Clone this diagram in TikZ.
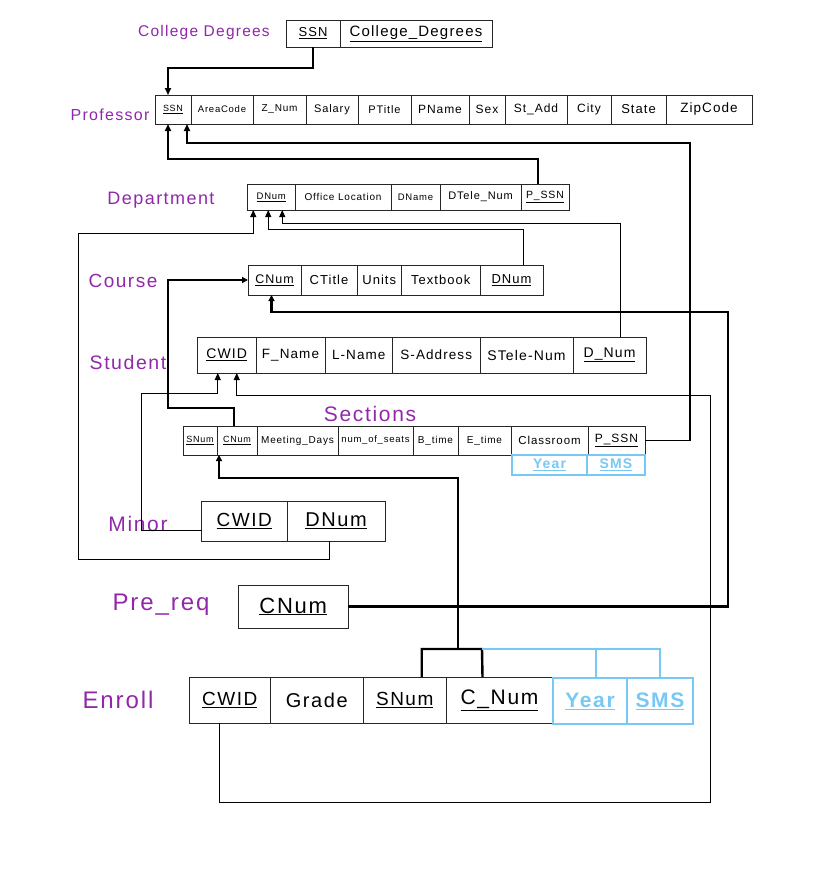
\documentclass[tikz,border=0pt]{standalone}
\usepackage{fontspec}
\setmainfont{Liberation Sans}
\newfontfamily\hand[LetterSpace=8]{Liberation Sans}
\usetikzlibrary{arrows.meta}
\definecolor{lab}{RGB}{145,40,170}
\definecolor{lblue}{RGB}{120,200,245}
\newcommand{\rc}[7][]{%
 \node[cellbox,#1,minimum width={(#4-#3)*1pt},minimum height={(#6-#5)*1pt}] (#2) at ({(#3+#4)/2},{(#5+#6)/2}) {#7};}
\newcommand{\fs}[1]{\fontsize{#1}{#1}\selectfont\hand}
\begin{document}
\begin{tikzpicture}[x=1pt,y=-1pt,
 cellbox/.style={draw=black!85,line width=0.8pt,inner sep=0pt,outer sep=0pt,rectangle},
 bcell/.style={cellbox,draw=lblue,line width=1.8pt,text=lblue},
 lbl/.style={text=lab,inner sep=0pt},
 thinarr/.style={draw=black,line width=1pt,-{Triangle[length=7pt,width=6pt]}},
 midarr/.style={draw=black,line width=1.6pt,-{Triangle[length=7pt,width=6pt]}},
 thickarr/.style={draw=black,line width=2.4pt,-{Triangle[length=6pt,width=6pt]}},
 thickln/.style={draw=black,line width=2.4pt},
 blueln/.style={draw=lblue,line width=2.2pt}]
\useasboundingbox (0,0) rectangle (812,891);
% ---------- labels
\node[lbl,font=\fs{15.5}] (lcd) at (204,32) {College Degrees};
\node[lbl,font=\fs{16}] (lprof) at (110,115) {Professor};
\node[lbl,font=\fs{18}] (ldep) at (161,200) {Department};
\node[lbl,font=\fs{19}] (lcrs) at (123,281) {Course};
\node[lbl,font=\fs{19.5}] (lstu) at (128,363) {Student};
\node[lbl,font=\fs{21}] (lsec) at (370,414) {Sections};
\node[lbl,font=\fs{21}] (lmin) at (138,524) {Minor};
\node[lbl,font=\fs{24}] (lpre) at (161,605) {Pre\_req};
\node[lbl,font=\fs{24}] (lenr) at (118,700) {Enroll};
% ---------- College Degrees
\rc[font=\fs{13}]{cdssn}{286}{340}{20}{47}{\underline{SSN}}
\rc[font=\fs{15}]{cdcd}{340}{492}{20}{47}{\underline{College\_Degrees}}
% ---------- Professor
\rc[font=\fs{9}]{pssn}{155}{191}{95}{124}{\underline{SSN}}
\rc[font=\fs{9.5}]{parea}{191}{253}{95}{124}{AreaCode}
\rc[font=\fs{10}]{pznum}{253}{306}{95}{124}{Z\_Num}
\rc[font=\fs{11}]{psal}{306}{358}{95}{124}{Salary}
\rc[font=\fs{11}]{ptit}{358}{411}{95}{124}{PTitle}
\rc[font=\fs{12}]{pname}{411}{469}{95}{124}{PName}
\rc[font=\fs{12}]{psex}{469}{505}{95}{124}{Sex}
\rc[font=\fs{12}]{padd}{505}{567}{95}{124}{St\_Add}
\rc[font=\fs{12}]{pcity}{567}{611}{95}{124}{City}
\rc[font=\fs{13}]{pstate}{611}{666}{95}{124}{State}
\rc[font=\fs{13.5}]{pzip}{666}{752}{95}{124}{ZipCode}
% ---------- Department
\rc[font=\fs{9.5}]{ddnum}{247.5}{295}{184}{210}{\underline{DNum}}
\rc[font=\fs{10}]{doff}{295}{391}{184}{210}{Office Location}
\rc[font=\fs{9.5}]{dname}{391}{440}{184}{210}{DName}
\rc[font=\fs{11}]{dtel}{440}{521}{184}{210}{DTele\_Num}
\rc[font=\fs{10.5}]{dpssn}{521}{569}{184}{210}{\underline{P\_SSN}}
% ---------- Course
\rc[font=\fs{12.5}]{ccnum}{248}{301}{265}{295}{\underline{CNum}}
\rc[font=\fs{13}]{ctit}{301}{357}{265}{295}{CTitle}
\rc[font=\fs{13}]{cunit}{357}{401.5}{265}{295}{Units}
\rc[font=\fs{13}]{ctext}{401.5}{480}{265}{295}{Textbook}
\rc[font=\fs{13}]{cdnum}{480}{543}{265}{295}{\underline{DNum}}
% ---------- Student
\rc[font=\fs{14}]{scwid}{197.5}{256}{337}{373}{\underline{CWID}}
\rc[font=\fs{13.5}]{sfn}{256}{325}{337}{373}{F\_Name}
\rc[font=\fs{13.5}]{sln}{325}{392.5}{337}{373}{L-Name}
\rc[font=\fs{13.5}]{sadd}{392.5}{480}{337}{373}{S-Address}
\rc[font=\fs{14}]{stel}{480}{573}{337}{373}{STele-Num}
\rc[font=\fs{14}]{sdnum}{573}{646}{337}{373}{\underline{D\_Num}}
% ---------- Sections
\rc[font=\fs{9}]{xsnum}{183}{217}{426}{455}{\underline{SNum}}
\rc[font=\fs{9}]{xcnum}{217}{257}{426}{455}{\underline{CNum}}
\rc[font=\fs{10}]{xmeet}{257}{338}{426}{455}{Meeting\_Days}
\rc[font=\fs{9.5}]{xseat}{338}{413}{426}{455}{num\_of\_seats}
\rc[font=\fs{10}]{xbt}{413}{458}{426}{455}{B\_time}
\rc[font=\fs{10}]{xet}{458}{511}{426}{455}{E\_time}
\rc[font=\fs{11.5}]{xroom}{511}{588}{426}{455}{Classroom}
\rc[font=\fs{12}]{xpssn}{588}{645}{426}{455}{\underline{P\_SSN}}
\rc[bcell,font=\fs{14}\bfseries]{xyear}{512}{587}{455}{475}{\underline{Year}}
\rc[bcell,font=\fs{14}\bfseries]{xsms}{587}{645}{455}{475}{\underline{SMS}}
% ---------- Minor
\rc[font=\fs{19}]{mcwid}{201.5}{287}{501}{541}{\underline{CWID}}
\rc[font=\fs{20}]{mdnum}{287}{385}{501}{541}{\underline{DNum}}
% ---------- Pre_req
\rc[font=\fs{22}]{rcnum}{238.5}{348}{585}{628}{\underline{CNum}}
% ---------- Enroll
\rc[font=\fs{19}]{ecwid}{189.5}{270}{677}{723}{\underline{CWID}}
\rc[font=\fs{20}]{egrade}{270}{363.5}{677}{723}{Grade}
\rc[font=\fs{19}]{esnum}{363.5}{446}{677}{723}{\underline{SNum}}
\rc[font=\fs{21}]{ecnum}{446}{553}{677}{723}{\underline{C\_Num}}
\rc[bcell,font=\fs{21}\bfseries]{eyear}{553}{627}{678}{724}{\underline{Year}}
\rc[bcell,font=\fs{21}\bfseries]{esms}{627}{693}{678}{724}{\underline{SMS}}
% ---------- bend coordinates
\coordinate (kP) at (690,143);
\coordinate (kM1) at (78,559);
\coordinate (kM2) at (78,233);
\coordinate (kC) at (168,350);
\coordinate (kR) at (728,312);
\coordinate (kS) at (141,393);
\coordinate (kE1) at (710,802);
\coordinate (kE2) at (710,395);
\coordinate (kB) at (458,649);
\coordinate (kB2) at (458,478);
\coordinate (kBR) at (482,649);
% ---------- connectors
\draw[midarr] (cdssn.south) -- ++(0,21) -| ([xshift=-5]pssn.north);
\draw[midarr] ([xshift=-7]dpssn.north) -- ++(0,-25) -| ([xshift=-5]pssn.south);
\draw[midarr] (xpssn.east) -| (kP) -| ([xshift=14]pssn.south);
\draw[thinarr] ([xshift=-7]mdnum.south) |- (kM1) -- (kM2) -| ([xshift=-18]ddnum.south);
\draw[thinarr] ([xshift=12]cdnum.north) -- ++(0,-36) -| ([xshift=-3]ddnum.south);
\draw[thinarr] ([xshift=11]sdnum.north) -- ++(0,-114) -| ([xshift=11]ddnum.south);
\draw[thickarr] ([xshift=-3]xcnum.north) -- ++(0,-18) -| (kC) |- (ccnum.west);
\draw[thickarr] (rcnum.east) -| (kR) -| ([xshift=-3]ccnum.south);
\draw[thinarr] ([yshift=-9]mcwid.west) -| (kS) -| ([xshift=-9]scwid.south);
\draw[thinarr] ([xshift=-10]ecwid.south) |- (kE1) -- (kE2) -| ([xshift=10]scwid.south);
\draw[thickln] ([xshift=17]esnum.north) |- (kBR) -- ([xshift=-17]ecnum.north);
\draw[thickarr] (kB) -- (kB2) -| ([xshift=-18]xcnum.south);
\draw[blueln] (kBR) -| (esms.north);
\draw[blueln] ([xshift=6]eyear.north) -- ([xshift=6]eyear.north |- kBR);
\end{tikzpicture}
\end{document}
